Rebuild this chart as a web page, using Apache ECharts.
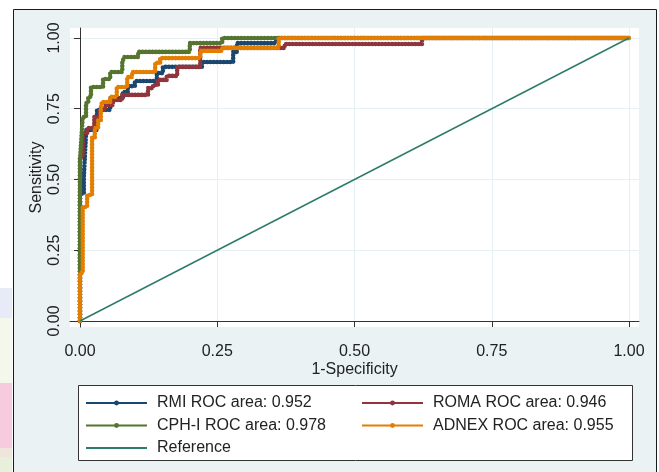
<!DOCTYPE html>
<html>
<head>
<meta charset="utf-8">
<title>ROC comparison</title>
<script src="https://cdn.jsdelivr.net/npm/echarts@6/dist/echarts.min.js"></script>
<style>
  html, body { margin: 0; padding: 0; background: #fff; }
  #chart { width: 659px; height: 472px; }
</style>
</head>
<body>
<div id="chart"></div>
<script>
// legend labels and Stata s2color colours
var names = ['RMI ROC area: 0.952', 'ROMA ROC area: 0.946', 'CPH-I ROC area: 0.978', 'ADNEX ROC area: 0.955', 'Reference'];
var colors = ['#1a476f', '#90353b', '#55752f', '#e37e00', '#2e7b6b'];
var ticks = [0, 0.25, 0.5, 0.75, 1];

// [1-specificity, sensitivity]
var rmi = [[0,0],[0,0.45],[0.007,0.45],[0.007,0.509],[0.011,0.664],[0.011,0.675],[0.031,0.675],[0.031,0.746],[0.055,0.746],[0.055,0.788],[0.078,0.788],[0.078,0.809],[0.087,0.809],[0.087,0.83],[0.1,0.83],[0.1,0.848],[0.14,0.848],[0.14,0.876],[0.151,0.876],[0.151,0.898],[0.222,0.898],[0.222,0.915],[0.279,0.915],[0.279,0.951],[0.286,0.951],[0.286,0.982],[0.357,0.982],[0.357,1],[1,1]];
var roma = [[0,0],[0,0.58],[0.005,0.58],[0.005,0.664],[0.013,0.664],[0.013,0.682],[0.026,0.682],[0.026,0.721],[0.036,0.721],[0.036,0.746],[0.046,0.746],[0.046,0.763],[0.06,0.763],[0.06,0.781],[0.077,0.781],[0.077,0.799],[0.124,0.799],[0.124,0.823],[0.133,0.823],[0.133,0.834],[0.142,0.834],[0.142,0.852],[0.158,0.852],[0.158,0.866],[0.177,0.866],[0.177,0.898],[0.219,0.898],[0.219,0.965],[0.373,0.965],[0.373,0.979],[0.623,0.979],[0.623,1],[1,1]];
var cph = [[0,0],[0,0.569],[0.002,0.569],[0.002,0.629],[0.005,0.629],[0.005,0.721],[0.011,0.721],[0.011,0.77],[0.015,0.77],[0.015,0.792],[0.02,0.792],[0.02,0.827],[0.042,0.827],[0.042,0.855],[0.055,0.855],[0.055,0.88],[0.077,0.88],[0.077,0.912],[0.08,0.912],[0.08,0.933],[0.106,0.933],[0.106,0.951],[0.2,0.951],[0.2,0.982],[0.259,0.982],[0.259,1],[1,1]];
var adnex = [[0,0],[0,0.17],[0.005,0.17],[0.005,0.403],[0.013,0.403],[0.013,0.445],[0.022,0.445],[0.022,0.647],[0.027,0.647],[0.027,0.682],[0.033,0.682],[0.033,0.71],[0.038,0.71],[0.038,0.753],[0.04,0.753],[0.04,0.774],[0.055,0.774],[0.055,0.792],[0.067,0.792],[0.067,0.827],[0.086,0.827],[0.086,0.862],[0.095,0.862],[0.095,0.88],[0.137,0.88],[0.137,0.912],[0.146,0.912],[0.146,0.929],[0.219,0.929],[0.219,0.955],[0.259,0.955],[0.259,0.965],[0.362,0.965],[0.362,1],[1,1]];
var refLine = [[0,0],[1,1]];

var curves = [rmi, roma, cph, adnex];
var font = 'Liberation Sans, Arial, sans-serif';

var series = curves.map(function (d, i) {
  return {
    name: names[i],
    type: 'line',
    data: d,
    symbol: 'circle',
    showSymbol: false,
    color: colors[i],
    // beaded look of the dense Stata markers
    lineStyle: { width: 4.6, type: [0.01, 3.3], cap: 'round', join: 'round' },
    emphasis: { disabled: true },
    animation: false
  };
});
series.push({
  name: names[4],
  type: 'line',
  data: refLine,
  symbol: 'none',
  color: colors[4],
  lineStyle: { width: 1.5 },
  emphasis: { disabled: true },
  animation: false
});

var legendCommon = {
  orient: 'vertical',
  top: 395,
  padding: 0,
  itemWidth: 61,
  itemHeight: 6,
  itemGap: 6.5,
  selectedMode: false,
  lineStyle: { type: 'solid', width: 2, cap: 'butt' },
  textStyle: { fontFamily: font, fontSize: 16, color: '#222', padding: [0, 0, 0, 5] }
};

var chart = echarts.init(document.getElementById('chart'));
chart.setOption({
  backgroundColor: '#fff',
  animation: false,
  graphic: [
    // page strips left of the frame
    { type: 'rect', z: -1, shape: { x: 0, y: 288, width: 12, height: 30 }, style: { fill: '#e6ebf7' } },
    { type: 'rect', z: -1, shape: { x: 0, y: 318, width: 12, height: 65 }, style: { fill: '#f3f7ec' } },
    { type: 'rect', z: -1, shape: { x: 0, y: 383, width: 12, height: 65 }, style: { fill: '#f8cadd' } },
    { type: 'rect', z: -1, shape: { x: 0, y: 448, width: 12, height: 9 }, style: { fill: '#efe5da' } },
    { type: 'rect', z: -1, shape: { x: 0, y: 457, width: 12, height: 15 }, style: { fill: '#e6f0da' } },
    // graph region
    { type: 'rect', z: -1, shape: { x: 13.5, y: 9.5, width: 643, height: 475 }, style: { fill: '#eaf2f3', stroke: '#1a1a1a', lineWidth: 1 } },
    // legend box
    { type: 'rect', z: 1, shape: { x: 78.5, y: 385.5, width: 554, height: 75 }, style: { fill: '#fff', stroke: '#333', lineWidth: 1 } }
  ],
  grid: {
    left: 70, right: 20, top: 28, bottom: 145,
    show: true, backgroundColor: '#fff', borderWidth: 0
  },
  xAxis: {
    type: 'value',
    min: -0.01821, max: 1.01821,
    offset: 4,
    name: '1-Specificity',
    nameLocation: 'middle',
    nameGap: 31,
    nameMoveOverlap: false,
    nameTextStyle: { fontFamily: font, fontSize: 16, color: '#222' },
    axisLine: { show: true, lineStyle: { color: '#333', width: 1 } },
    axisTick: { show: true, length: 6, customValues: ticks, lineStyle: { color: '#333' } },
    axisLabel: { customValues: ticks, margin: 13, fontFamily: font, fontSize: 16, color: '#222',
      formatter: function (v) { return v.toFixed(2); } },
    splitLine: { show: true, lineStyle: { color: '#e6eff2', width: 1 } }
  },
  yAxis: {
    type: 'value',
    min: -0.0212, max: 1.0353,
    name: 'Sensitivity',
    nameLocation: 'middle',
    nameGap: 25,
    nameMoveOverlap: false,
    nameTextStyle: { fontFamily: font, fontSize: 16, color: '#222' },
    axisLine: { show: true, lineStyle: { color: '#333', width: 1 } },
    axisTick: { show: true, length: 6, customValues: ticks, lineStyle: { color: '#333' } },
    axisLabel: { customValues: ticks, rotate: 90, margin: 7, fontFamily: font, fontSize: 16, color: '#222',
      formatter: function (v) { return v.toFixed(2); } },
    splitLine: { show: true, lineStyle: { color: '#e6eff2', width: 1 } }
  },
  legend: [
    Object.assign({}, legendCommon, {
      left: 85,
      data: [names[0], names[2], { name: names[4], itemStyle: { opacity: 0 } }]
    }),
    Object.assign({}, legendCommon, {
      left: 361,
      data: [names[1], names[3]]
    })
  ],
  series: series
});
</script>
</body>
</html>
